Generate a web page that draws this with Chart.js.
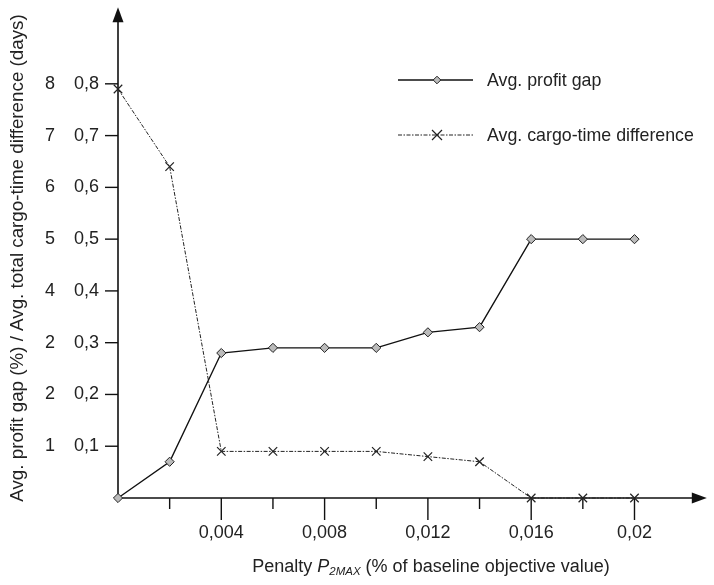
<!DOCTYPE html>
<html>
<head>
<meta charset="utf-8">
<script src="https://cdn.jsdelivr.net/npm/chart.js@4.4.1/dist/chart.umd.min.js"></script>
<style>
    body { margin: 0; background: #fff; }
    #penaltyChart { display: block; }
</style>
</head>
<body>
<canvas id="penaltyChart" width="714" height="585"></canvas>
<script>
var penalty = [0, 0.002, 0.004, 0.006, 0.008, 0.01, 0.012, 0.014, 0.016, 0.018, 0.02];
var profitGap = [0, 0.07, 0.28, 0.29, 0.29, 0.29, 0.32, 0.33, 0.5, 0.5, 0.5];
var cargoTime = [0.79, 0.64, 0.09, 0.09, 0.09, 0.09, 0.08, 0.07, 0, 0, 0];

var yTicks = [0.1, 0.2, 0.3, 0.4, 0.5, 0.6, 0.7, 0.8];
var yLabelsLeft = ["1", "2", "2", "4", "5", "6", "7", "8"];
var yLabelsRight = ["0,1", "0,2", "0,3", "0,4", "0,5", "0,6", "0,7", "0,8"];
var xMajorTicks = [0.004, 0.008, 0.012, 0.016, 0.02];
var xMajorLabels = ["0,004", "0,008", "0,012", "0,016", "0,02"];
var xMinorTicks = [0.002, 0.006, 0.01, 0.014, 0.018];

var seriesNames = ["Avg. profit gap", "Avg. cargo-time difference"];

var FONT = "Liberation Sans, Arial, sans-serif";
var TEXT = "#222";

function toPoints(xs, ys) {
    return xs.map(function (x, i) { return { x: x, y: ys[i] }; });
}

function drawDiamond(ctx, x, y, r) {
    ctx.beginPath();
    ctx.moveTo(x, y - r);
    ctx.lineTo(x + r, y);
    ctx.lineTo(x, y + r);
    ctx.lineTo(x - r, y);
    ctx.closePath();
    ctx.fillStyle = "#bbb";
    ctx.fill();
    ctx.strokeStyle = "#222";
    ctx.lineWidth = 1;
    ctx.stroke();
}

function drawCross(ctx, x, y, r) {
    ctx.beginPath();
    ctx.moveTo(x - r, y - r);
    ctx.lineTo(x + r, y + r);
    ctx.moveTo(x + r, y - r);
    ctx.lineTo(x - r, y + r);
    ctx.strokeStyle = "#222";
    ctx.lineWidth = 1.2;
    ctx.stroke();
}

var axesPlugin = {
    id: "axesPlugin",
    beforeDatasetsDraw: function (chart) {
        var ctx = chart.ctx;
        var xs = chart.scales.x, ys = chart.scales.y;
        var x0 = xs.getPixelForValue(0), y0 = ys.getPixelForValue(0);
        var area = chart.chartArea;
        ctx.save();
        ctx.strokeStyle = "#111";
        ctx.fillStyle = "#111";
        ctx.lineWidth = 1.6;

        // axis lines
        ctx.beginPath();
        ctx.moveTo(x0, y0);
        ctx.lineTo(x0, area.top + 12);
        ctx.moveTo(x0, y0);
        ctx.lineTo(area.right - 12, y0);
        ctx.stroke();

        // arrows
        ctx.beginPath();
        ctx.moveTo(x0, area.top);
        ctx.lineTo(x0 - 5.5, area.top + 15);
        ctx.lineTo(x0 + 5.5, area.top + 15);
        ctx.closePath();
        ctx.fill();
        ctx.beginPath();
        ctx.moveTo(area.right, y0);
        ctx.lineTo(area.right - 15, y0 - 5.5);
        ctx.lineTo(area.right - 15, y0 + 5.5);
        ctx.closePath();
        ctx.fill();

        // y ticks
        ctx.lineWidth = 1.4;
        ctx.font = "18px " + FONT;
        ctx.textBaseline = "middle";
        yTicks.forEach(function (v, i) {
            var py = ys.getPixelForValue(v);
            ctx.beginPath();
            ctx.moveTo(x0 - 13, py);
            ctx.lineTo(x0, py);
            ctx.stroke();
            ctx.fillStyle = TEXT;
            ctx.textAlign = "right";
            ctx.fillText(yLabelsRight[i], x0 - 19, py);
            ctx.fillText(yLabelsLeft[i], x0 - 63, py);
        });

        // x ticks
        xMinorTicks.forEach(function (v) {
            var px = xs.getPixelForValue(v);
            ctx.beginPath();
            ctx.moveTo(px, y0);
            ctx.lineTo(px, y0 + 11);
            ctx.stroke();
        });
        ctx.textAlign = "center";
        xMajorTicks.forEach(function (v, i) {
            var px = xs.getPixelForValue(v);
            ctx.beginPath();
            ctx.moveTo(px, y0);
            ctx.lineTo(px, y0 + 22);
            ctx.stroke();
            ctx.fillText(xMajorLabels[i], px, y0 + 35);
        });

        // x title with italic P and subscript
        var parts = [
            { t: "Penalty ", f: "18px " + FONT, dy: 0 },
            { t: "P", f: "italic 18px " + FONT, dy: 0 },
            { t: "2MAX", f: "italic 11.5px " + FONT, dy: 5 },
            { t: " (% of baseline objective value)", f: "18px " + FONT, dy: 0 }
        ];
        var total = 0;
        parts.forEach(function (p) { ctx.font = p.f; p.w = ctx.measureText(p.t).width; total += p.w; });
        var tx = 431 - total / 2;
        ctx.textAlign = "left";
        parts.forEach(function (p) {
            ctx.font = p.f;
            ctx.fillText(p.t, tx, 567 + p.dy);
            tx += p.w;
        });

        // y title
        ctx.save();
        ctx.translate(18, 258);
        ctx.rotate(-Math.PI / 2);
        ctx.textAlign = "center";
        ctx.font = "18.8px " + FONT;
        ctx.fillText("Avg. profit gap (%) / Avg. total cargo-time difference (days)", 0, 0);
        ctx.restore();

        // legend
        ctx.font = "17.8px " + FONT;
        ctx.textAlign = "left";
        ctx.lineWidth = 1.3;
        ctx.strokeStyle = "#111";
        ctx.beginPath();
        ctx.moveTo(398, 80);
        ctx.lineTo(473, 80);
        ctx.stroke();
        drawDiamond(ctx, 437, 80, 3.8);
        ctx.fillStyle = TEXT;
        ctx.fillText(seriesNames[0], 487, 81);

        ctx.lineWidth = 1;
        ctx.strokeStyle = "#222";
        ctx.setLineDash([4, 1.5, 1.5, 1.5]);
        ctx.beginPath();
        ctx.moveTo(398, 135);
        ctx.lineTo(473, 135);
        ctx.stroke();
        ctx.setLineDash([]);
        drawCross(ctx, 437, 135, 5);
        ctx.fillStyle = TEXT;
        ctx.fillText(seriesNames[1], 487, 136);

        ctx.restore();
    }
};

var ctx1 = document.getElementById("penaltyChart").getContext("2d");
var penaltyChart = new Chart(ctx1, {
    type: "line",
    data: {
        datasets: [{
            label: seriesNames[0],
            data: toPoints(penalty, profitGap),
            borderColor: "#111",
            borderWidth: 1.4,
            pointStyle: "rectRot",
            pointRadius: 4.6,
            pointBackgroundColor: "#bbb",
            pointBorderColor: "#222",
            pointBorderWidth: 1,
            tension: 0,
            clip: false
        }, {
            label: seriesNames[1],
            data: toPoints(penalty, cargoTime),
            borderColor: "#222",
            borderWidth: 1,
            borderDash: [4, 1.5, 1.5, 1.5],
            pointStyle: "crossRot",
            pointRadius: 6,
            pointBorderColor: "#222",
            pointBorderWidth: 1.2,
            tension: 0,
            clip: false
        }]
    },
    options: {
        responsive: false,
        animation: false,
        devicePixelRatio: 1,
        layout: { padding: { left: 118, right: 1, top: 3, bottom: 87 } },
        scales: {
            x: { type: "linear", display: false, min: 0, max: 0.0228 },
            y: { type: "linear", display: false, min: 0, max: 0.948 }
        },
        plugins: {
            legend: { display: false },
            tooltip: { enabled: false }
        }
    },
    plugins: [axesPlugin]
});
</script>
</body>
</html>
